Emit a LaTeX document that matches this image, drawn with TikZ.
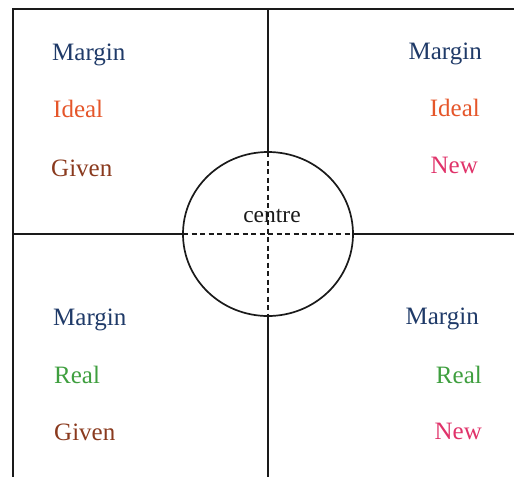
\documentclass[tikz,border=0pt]{standalone}
\usepackage{fontspec}
\setmainfont{Liberation Serif}
\definecolor{cMargin}{HTML}{1F3A68}
\definecolor{cIdeal}{HTML}{E5562A}
\definecolor{cGiven}{HTML}{8A3A1E}
\definecolor{cNew}{HTML}{E0336A}
\definecolor{cReal}{HTML}{3F9F3F}
\definecolor{cLine}{HTML}{1A1A1A}
\tikzset{
  lbl/.style={inner sep=0pt, font=\fontsize{25}{29}\selectfont},
  lw/.style={lbl, anchor=base west},
  le/.style={lbl, anchor=base east},
  frame/.style={draw=cLine, line width=1.7pt},
  dsh/.style={draw=cLine, line width=1.7pt, dash pattern=on 5pt off 3.5pt},
}
\begin{document}
\begin{tikzpicture}[x=1pt,y=-1pt]
\useasboundingbox (0,0) rectangle (514,477);
\coordinate (tl) at (13,9);
\coordinate (tr) at (514,9);
\coordinate (bl) at (13,477);
\coordinate (vt) at (268,9);
\coordinate (vb) at (268,477);
\coordinate (hl) at (13,234);
\coordinate (hr) at (514,234);
\coordinate (c) at (268,234);
\coordinate (ct) at (268,152);
\coordinate (cb) at (268,316);
\coordinate (cl) at (183,234);
\coordinate (cr) at (353,234);
% frame
\draw[frame] (tr) -- (tl) -- (bl);
\draw[frame] (vt) -- (ct);
\draw[frame] (cb) -- (vb);
\draw[frame] (hl) -- (cl);
\draw[frame] (cr) -- (hr);
% circle
\draw[frame] (c) ellipse [x radius=85, y radius=82];
% dashed cross
\draw[dsh] (ct) -- (cb);
\draw[dsh] (cl) -- (cr);
% centre
\node[lbl, anchor=base, text=cLine, font=\fontsize{23.5}{27}\selectfont] (centre) at (272,222) {centre};
% top-left
\node[lw, text=cMargin] (m1) at (52,60) {Margin};
\node[lw, text=cIdeal] (i1) at (53,117) {Ideal};
\node[lw, text=cGiven] (g1) at (51,176) {Given};
% top-right
\node[le, text=cMargin] (m2) at (482,59) {Margin};
\node[le, text=cIdeal] (i2) at (480,116) {Ideal};
\node[le, text=cNew] (n2) at (478,173) {New};
% bottom-left
\node[lw, text=cMargin] (m3) at (53,325) {Margin};
\node[lw, text=cReal] (r3) at (54,383) {Real};
\node[lw, text=cGiven] (g3) at (54,440) {Given};
% bottom-right
\node[le, text=cMargin] (m4) at (479,324) {Margin};
\node[le, text=cReal] (r4) at (482,383) {Real};
\node[le, text=cNew] (n4) at (482,439) {New};
\end{tikzpicture}
\end{document}
